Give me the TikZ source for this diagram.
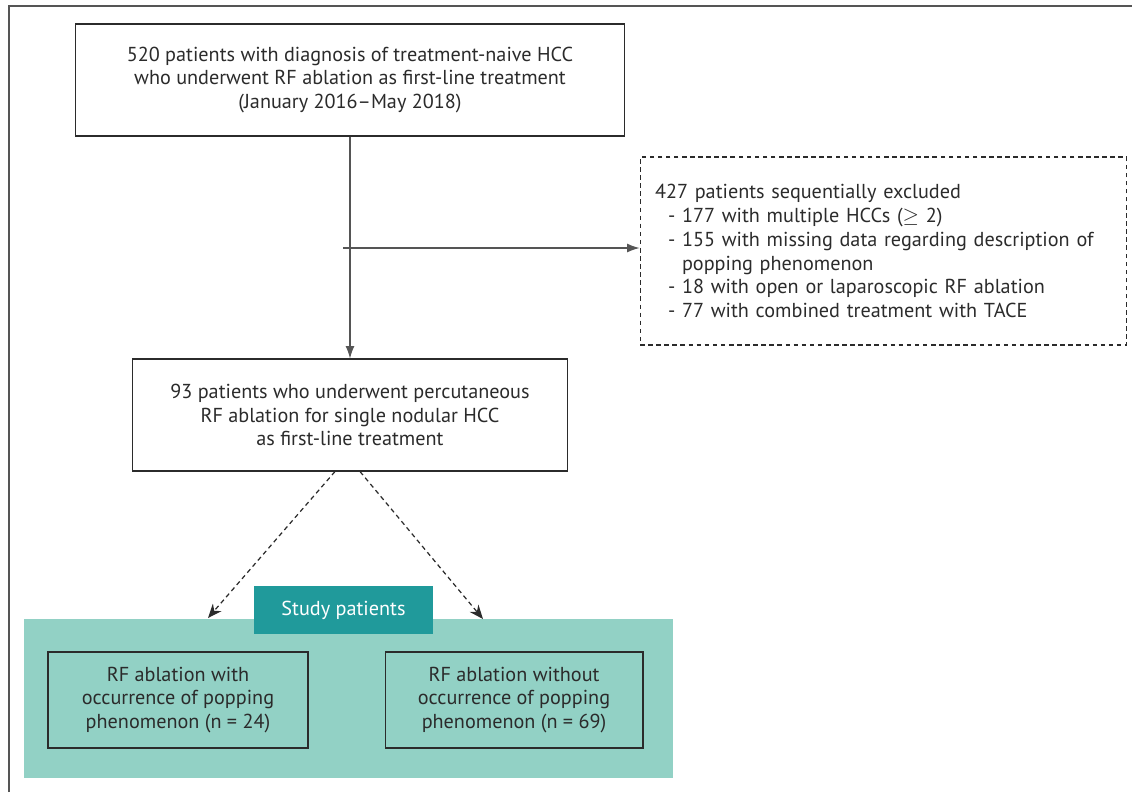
\documentclass[tikz,border=0pt]{standalone}
\usepackage{fontspec}
\setmainfont{PT Sans}
\usetikzlibrary{positioning}
\usetikzlibrary{calc}
\usetikzlibrary{arrows.meta}

\definecolor{teallight}{HTML}{92D1C5}
\definecolor{tealdark}{HTML}{209A9B}
\definecolor{inkgray}{HTML}{2B2B2B}
\definecolor{linegray}{HTML}{555555}

\tikzset{
  flowbox/.style={draw=inkgray, line width=0.6pt, align=center, text=inkgray, inner sep=0pt},
  exclbox/.style={draw=inkgray, line width=0.6pt, dash pattern=on 2.6pt off 2pt, align=left, text=inkgray, inner xsep=0.3cm, inner ysep=0pt},
  solidarrow/.style={draw=linegray, line width=0.6pt, -{Latex[length=7pt,width=5pt]}},
  dasharrow/.style={draw=inkgray, line width=0.7pt, dash pattern=on 2.6pt off 2pt, -{Stealth[length=8pt,width=6.5pt]}}
}

\begin{document}
\begin{tikzpicture}[x=0.02cm,y=-0.02cm,font=\fontsize{11.5}{13.6}\selectfont]
\useasboundingbox (0,0) rectangle (1132,792);
\draw[linegray, line width=0.6pt] (9,792) -- (9,6) -- (1132,6);

% flow boxes
\node[flowbox, minimum width=11cm, minimum height=2.24cm](all) at (350,80){520 patients with diagnosis of treatment-naive HCC\\who underwent RF ablation as first-line treatment\\(January 2016--May 2018)};
\node[exclbox, text width=9.14cm, minimum height=3.76cm](excl) at (883.5,251){427 patients sequentially excluded\\
\hspace*{0.26cm}- 177 with multiple HCCs ($\geq$ 2)\\
\hspace*{0.26cm}- 155 with missing data regarding description of\\
\hspace*{0.54cm}popping phenomenon\\
\hspace*{0.26cm}- 18 with open or laparoscopic RF ablation\\
\hspace*{0.26cm}- 77 with combined treatment with TACE};
\node[flowbox, minimum width=8.72cm, minimum height=2.24cm](single) at (350,415){93 patients who underwent percutaneous\\RF ablation for single nodular HCC\\as first-line treatment};

% study group
\node[fill=teallight, minimum width=12.98cm, minimum height=3.18cm, inner sep=0pt](group) at (348.5,698.5){};
\node[fill=tealdark, text=white, minimum width=3.58cm, minimum height=0.96cm, inner sep=0pt](study) at (343.5,610){Study patients};
\node[flowbox, minimum width=5.2cm, minimum height=1.92cm](popyes) at (178,700){RF ablation with\\occurrence of popping\\phenomenon (n = 24)};
\node[flowbox, minimum width=5.16cm, minimum height=1.92cm](popno) at (514,700){RF ablation without\\occurrence of popping\\phenomenon (n = 69)};

\coordinate (split) at (343,248);
\coordinate (leftend) at (208,618);
\coordinate (rightend) at (483,619);

\path
(all.south) edge[solidarrow] (single.north)
(split) edge[solidarrow] (split -| excl.west)
($(single.south)+(-15,0)$) edge[dasharrow] (leftend)
($(single.south)+(10,0)$) edge[dasharrow] (rightend);
\end{tikzpicture}
\end{document}
